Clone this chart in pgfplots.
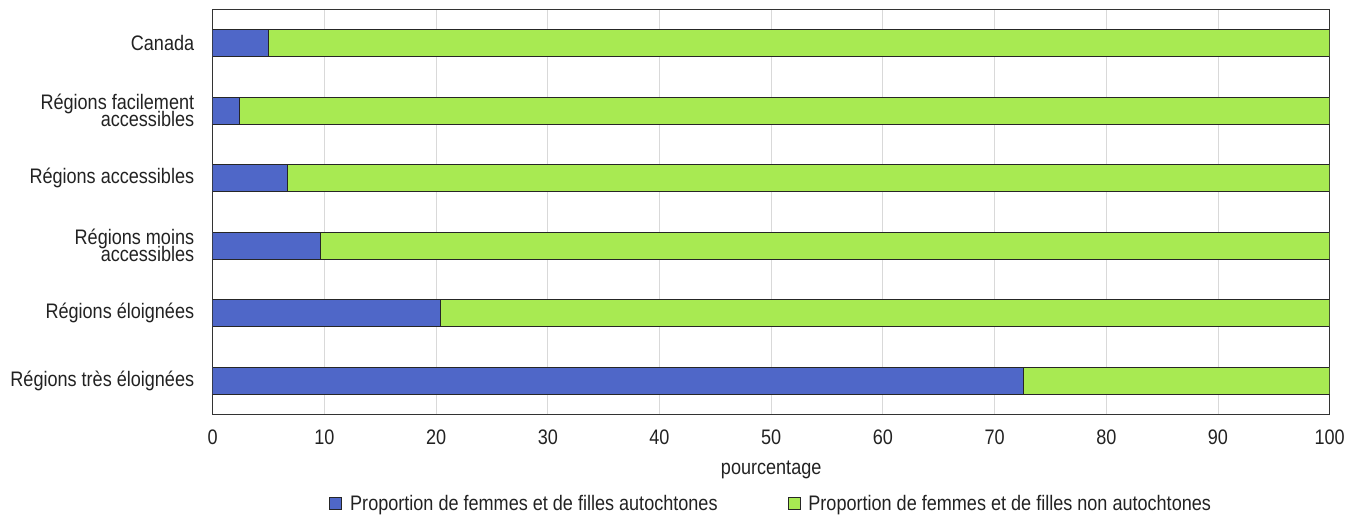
\documentclass[border=0pt]{standalone}
\usepackage{fontspec}
\setmainfont{Liberation Sans}[FakeStretch=0.86]
\usepackage{pgfplots}
\pgfplotsset{compat=1.18}
\definecolor{cblue}{HTML}{4F67C8}
\definecolor{cgreen}{HTML}{A8EA52}
\definecolor{txt}{HTML}{222222}
\newcommand{\tightfont}{\fontsize{21}{16.5}\selectfont\lineskiplimit=-30pt\relax\lineskip=0pt\relax}
\begin{document}
\begin{tikzpicture}
\path[use as bounding box] (-212.7pt,-102pt) rectangle (1144.3pt,414.3pt);
\begin{axis}[
  at={(0,0)}, anchor=south west,
  scale only axis,
  width=1117pt, height=405pt,
  xbar stacked,
  bar width=27pt,
  xmin=0, xmax=100,
  ymin=-0.5, ymax=5.5,
  y dir=reverse,
  xtick={0,10,...,100},
  ytick={0,1,2,3,4,5},
  yticklabels={Canada, Régions facilement\\accessibles, Régions accessibles, Régions moins\\accessibles, Régions éloignées, Régions très éloignées},
  yticklabel style={align=right, font=\tightfont, text=txt, xshift=-15pt},
  xticklabel style={font=\fontsize{21}{24}\selectfont, text=txt, yshift=-12pt},
  /pgf/number format/assume math mode=true,
  major tick length=0pt,
  xmajorgrids,
  grid style={draw=black!15, line width=0.8pt},
  axis line style={draw=black!80, line width=1pt},
  axis on top=false,
  xlabel={pourcentage},
  xlabel style={at={(axis description cs:0.5,0)}, anchor=center, yshift=-56pt, font=\fontsize{21}{24}\selectfont, text=txt},
  legend style={at={(axis description cs:0.5,0)}, anchor=center, yshift=-89pt, draw=none, fill=none,
    font=\fontsize{21}{24}\selectfont, text=txt,
    /tikz/every odd column/.append style={column sep=6pt},
    /tikz/every even column/.append style={column sep=68pt}},
  legend columns=2,
  legend image code/.code={\draw[#1, line width=0.8pt] (0pt,-6pt) rectangle (12pt,6pt);},
]
\addplot[fill=cblue, draw=black!85, line width=0.8pt] coordinates {
  (5.0,0) (2.4,1) (6.7,2) (9.6,3) (20.4,4) (72.6,5)};
\addplot[fill=cgreen, draw=black!85, line width=0.8pt] coordinates {
  (95.0,0) (97.6,1) (93.3,2) (90.4,3) (79.6,4) (27.4,5)};
\legend{Proportion de femmes et de filles autochtones, Proportion de femmes et de filles non autochtones}
\end{axis}
\end{tikzpicture}
\end{document}
